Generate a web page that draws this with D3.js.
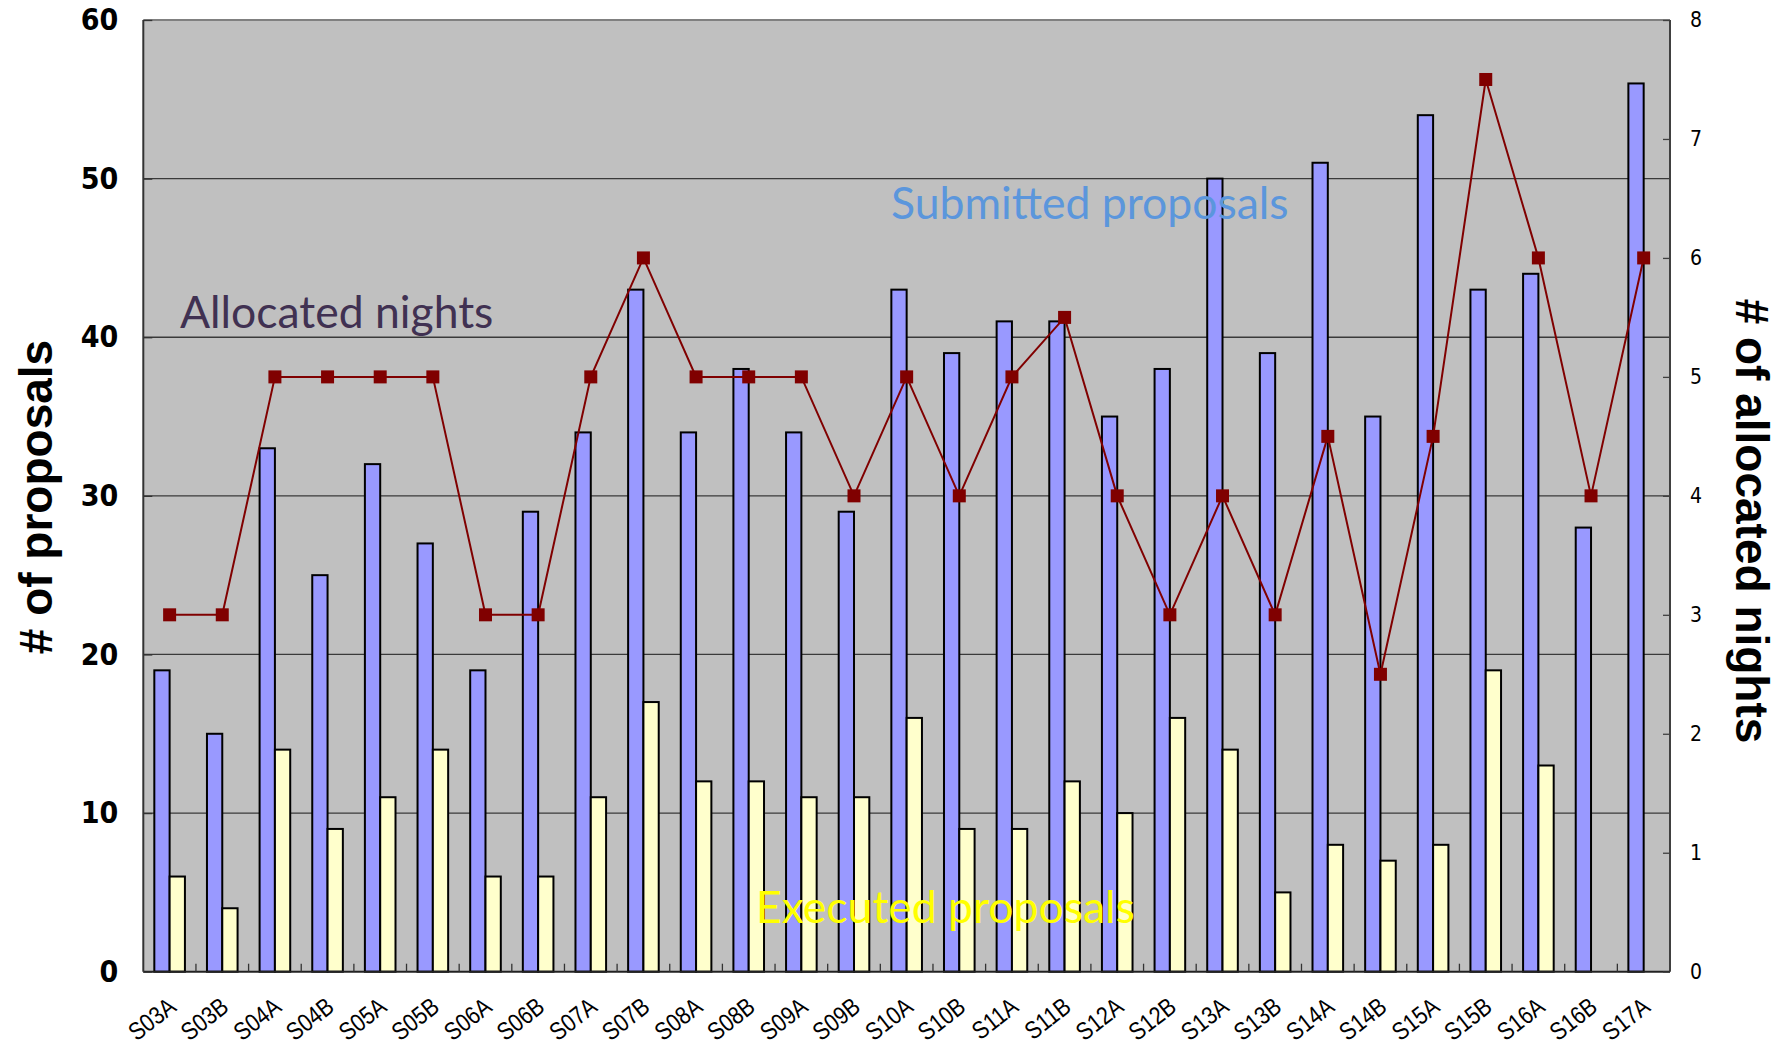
<!DOCTYPE html>
<html>
<head>
<meta charset="utf-8">
<script src="https://cdn.jsdelivr.net/npm/d3@7"></script>
<style>
  body { margin: 0; background: #fff; }
  text { font-family: "Liberation Sans Narrow", "DejaVu Sans Condensed", sans-serif; }
</style>
</head>
<body>
<div id="chart"></div>
<script>
var categories = ['S03A', 'S03B', 'S04A', 'S04B', 'S05A', 'S05B', 'S06A', 'S06B', 'S07A', 'S07B',
    'S08A', 'S08B', 'S09A', 'S09B', 'S10A', 'S10B', 'S11A', 'S11B', 'S12A', 'S12B',
    'S13A', 'S13B', 'S14A', 'S14B', 'S15A', 'S15B', 'S16A', 'S16B', 'S17A'];
var submitted = [19, 15, 33, 25, 32, 27, 19, 29, 34, 43,
    34, 38, 34, 29, 43, 39, 41, 41, 35, 38,
    50, 39, 51, 35, 54, 43, 44, 28, 56];
var executed = [6, 4, 14, 9, 11, 14, 6, 6, 11, 17,
    12, 12, 11, 11, 16, 9, 9, 12, 10, 16,
    14, 5, 8, 7, 8, 19, 13, null, null];
var nights = [3, 3, 5, 5, 5, 5, 3, 3, 5, 6,
    5, 5, 5, 4, 5, 4, 5, 5.5, 4, 3,
    4, 3, 4.5, 2.5, 4.5, 7.5, 6, 4, 6];
var leftTicks = [0, 10, 20, 30, 40, 50, 60];
var rightTicks = [0, 1, 2, 3, 4, 5, 6, 7, 8];

var width = 1787, height = 1050;
var plotLeft = 143.3, plotRight = 1670, plotTop = 20, plotBottom = 971.7;

var svg = d3.select('#chart').append('svg')
    .attr('width', width)
    .attr('height', height);

var x = d3.scaleBand().domain(categories).range([plotLeft, plotRight]).padding(0);
var xSub = d3.scaleBand().domain(['sub', 'exe']).range([0, x.bandwidth()])
    .paddingInner(0).paddingOuter(0.72);
var yL = d3.scaleLinear().domain([0, 60]).range([plotBottom, plotTop]);
var yR = d3.scaleLinear().domain([0, 8]).range([plotBottom, plotTop]);

// plot background
svg.append('rect')
    .attr('x', plotLeft).attr('y', plotTop)
    .attr('width', plotRight - plotLeft).attr('height', plotBottom - plotTop)
    .attr('fill', '#c0c0c0');

// gridlines
svg.append('g').selectAll('line')
    .data(leftTicks.filter(function(d) { return d > 0 && d < 60; }))
    .enter().append('line')
    .attr('x1', plotLeft).attr('x2', plotRight)
    .attr('y1', function(d) { return yL(d); })
    .attr('y2', function(d) { return yL(d); })
    .attr('stroke', '#3a3a3a').attr('stroke-width', 1.3);

// top border
svg.append('line')
    .attr('x1', plotLeft).attr('x2', plotRight).attr('y1', plotTop).attr('y2', plotTop)
    .attr('stroke', '#808080').attr('stroke-width', 2);

// bars
var groups = svg.append('g').selectAll('g')
    .data(categories)
    .enter().append('g')
    .attr('transform', function(d) { return 'translate(' + x(d) + ',0)'; });

groups.append('rect')
    .attr('x', xSub('sub'))
    .attr('width', xSub.bandwidth())
    .attr('y', function(d, i) { return yL(submitted[i]); })
    .attr('height', function(d, i) { return plotBottom - yL(submitted[i]); })
    .attr('fill', '#9999ff').attr('stroke', '#000').attr('stroke-width', 2);

groups.filter(function(d, i) { return executed[i] != null; })
    .append('rect')
    .attr('x', xSub('exe'))
    .attr('width', xSub.bandwidth())
    .attr('y', function(d) { return yL(executed[categories.indexOf(d)]); })
    .attr('height', function(d) { return plotBottom - yL(executed[categories.indexOf(d)]); })
    .attr('fill', '#ffffcc').attr('stroke', '#000').attr('stroke-width', 2);

// axes lines
svg.append('line')
    .attr('x1', plotRight).attr('x2', plotRight).attr('y1', plotTop).attr('y2', plotBottom)
    .attr('stroke', '#404040').attr('stroke-width', 2);
svg.append('line')
    .attr('x1', plotLeft).attr('x2', plotRight).attr('y1', plotBottom).attr('y2', plotBottom)
    .attr('stroke', '#222').attr('stroke-width', 2);
svg.append('line')
    .attr('x1', plotLeft).attr('x2', plotLeft).attr('y1', plotTop).attr('y2', plotBottom)
    .attr('stroke', '#333').attr('stroke-width', 2);

// category ticks (between categories, pointing up)
svg.append('g').selectAll('line')
    .data(categories.slice(1))
    .enter().append('line')
    .attr('x1', function(d) { return x(d); })
    .attr('x2', function(d) { return x(d); })
    .attr('y1', plotBottom).attr('y2', plotBottom - 8)
    .attr('stroke', '#333').attr('stroke-width', 1.3);

// left axis
var leftAxis = svg.append('g')
    .attr('transform', 'translate(' + plotLeft + ',0)')
    .call(d3.axisLeft(yL).tickValues(leftTicks).tickSizeInner(-9).tickSizeOuter(0).tickPadding(25));
leftAxis.select('.domain').remove();
leftAxis.selectAll('line').attr('stroke', '#333').attr('stroke-width', 1.3);
leftAxis.selectAll('text')
    .attr('font-family', '"Liberation Sans Narrow", "DejaVu Sans Condensed", sans-serif')
    .attr('font-weight', 'bold').attr('font-size', 30).attr('fill', '#000');

// right axis
var rightAxis = svg.append('g')
    .attr('transform', 'translate(' + plotRight + ',0)')
    .call(d3.axisRight(yR).tickValues(rightTicks).tickSizeInner(-7).tickSizeOuter(0).tickPadding(20));
rightAxis.select('.domain').remove();
rightAxis.selectAll('line').attr('stroke', '#404040').attr('stroke-width', 1.3);
rightAxis.selectAll('text')
    .attr('font-family', '"Liberation Sans Narrow", "DejaVu Sans Condensed", sans-serif')
    .attr('font-size', 21).attr('fill', '#000');

// x labels, slanted and a bit condensed
svg.append('g').selectAll('text')
    .data(categories)
    .enter().append('text')
    .attr('transform', function(d) {
        return 'translate(' + (x(d) + x.bandwidth() / 2 + 8) + ',' + (plotBottom + 38) + ') rotate(-38) scale(0.85,1)';
    })
    .attr('text-anchor', 'end')
    .style('font-family', '"Liberation Sans", Arial, sans-serif')
    .attr('font-size', 25)
    .attr('fill', '#000')
    .text(function(d) { return d; });

// allocated nights line
var line = d3.line()
    .x(function(d, i) { return x(categories[i]) + x.bandwidth() / 2; })
    .y(function(d) { return yR(d); });

svg.append('path')
    .datum(nights)
    .attr('d', line)
    .attr('fill', 'none')
    .attr('stroke', '#800000')
    .attr('stroke-width', 2);

svg.append('g').selectAll('rect')
    .data(nights)
    .enter().append('rect')
    .attr('x', function(d, i) { return x(categories[i]) + x.bandwidth() / 2 - 6.5; })
    .attr('y', function(d) { return yR(d) - 6.5; })
    .attr('width', 13).attr('height', 13)
    .attr('fill', '#800000');

// annotations
var notes = svg.append('g').attr('font-size', 44.5);
notes.append('text').attr('x', 891).attr('y', 219)
    .style('font-family', 'Lato, "Open Sans", sans-serif')
    .attr('fill', '#5b96dc').text('Submitted proposals');
notes.append('text').attr('x', 180).attr('y', 328)
    .style('font-family', 'Lato, "Open Sans", sans-serif')
    .attr('fill', '#403152').text('Allocated nights');
notes.append('text').attr('x', 756).attr('y', 923)
    .style('font-family', 'Lato, "Open Sans", sans-serif')
    .attr('fill', '#ffff00').text('Executed proposals');

// axis titles
svg.append('text')
    .attr('transform', 'translate(52,497) rotate(-90)')
    .attr('text-anchor', 'middle')
    .style('font-family', '"Liberation Sans", Arial, sans-serif')
    .attr('font-weight', 'bold')
    .attr('font-size', 46)
    .text('# of proposals');

svg.append('text')
    .attr('transform', 'translate(1736,521) rotate(90)')
    .attr('text-anchor', 'middle')
    .style('font-family', '"Liberation Sans", Arial, sans-serif')
    .attr('font-weight', 'bold')
    .attr('font-size', 46)
    .text('# of allocated nights');
</script>
</body>
</html>
